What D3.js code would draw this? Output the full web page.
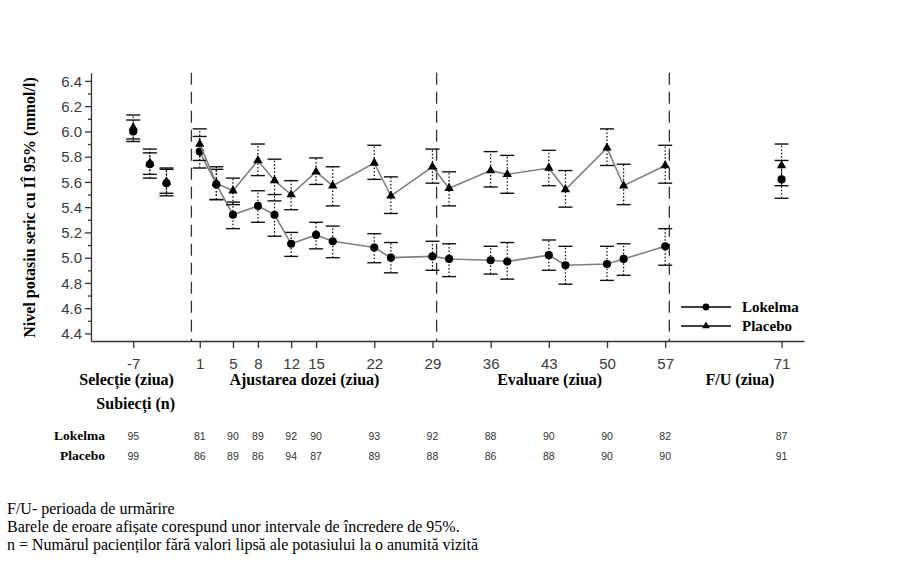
<!DOCTYPE html>
<html><head><meta charset="utf-8">
<script src="https://cdn.jsdelivr.net/npm/d3@7"></script>
<style>body{margin:0;background:#fff}svg{display:block}</style>
</head><body>
<script>
// ---- data ----
const visitDays = [-7,-5,-3,1,3,5,8,10,12,15,17,22,24,29,31,36,38,43,45,50,52,57,71];
const lokMean = [6.00,5.74,5.59,5.84,5.58,5.34,5.41,5.34,5.11,5.18,5.13,5.08,5.00,5.01,4.99,4.98,4.97,5.02,4.94,4.95,4.99,5.09,5.62];
const lokLo   = [5.92,5.63,5.49,5.71,5.46,5.23,5.28,5.17,5.01,5.07,5.00,4.96,4.88,4.90,4.85,4.87,4.83,4.90,4.79,4.82,4.86,4.94,5.47];
const lokHi   = [6.09,5.83,5.70,5.96,5.70,5.44,5.53,5.50,5.20,5.28,5.25,5.19,5.12,5.13,5.11,5.09,5.12,5.14,5.09,5.09,5.11,5.23,5.77];
const plaMean = [6.03,5.75,5.60,5.90,5.59,5.53,5.77,5.61,5.50,5.68,5.57,5.75,5.49,5.72,5.55,5.69,5.66,5.71,5.54,5.87,5.57,5.73,5.73];
const plaLo   = [5.94,5.66,5.51,5.77,5.46,5.42,5.65,5.45,5.38,5.58,5.41,5.62,5.35,5.59,5.41,5.56,5.51,5.57,5.40,5.73,5.42,5.59,5.57];
const plaHi   = [6.13,5.86,5.71,6.02,5.72,5.63,5.90,5.78,5.61,5.79,5.72,5.89,5.64,5.86,5.68,5.84,5.81,5.85,5.69,6.02,5.74,5.89,5.90];
const connectedFrom = 1, connectedTo = 57;   // line joins visits in this range

const xTickDays = [-7,1,5,8,12,15,22,29,36,43,50,57,71];
const yTicks = [4.4,4.6,4.8,5.0,5.2,5.4,5.6,5.8,6.0,6.2,6.4];
const yMinorTicks = [4.5,4.7,4.9,5.1,5.3,5.5,5.7,5.9,6.1,6.3];
const phaseDividers = [0, 29.5, 57.5];
const phaseLabels = [
  {text:"Selecție (ziua)", day:-7.8},
  {text:"Ajustarea dozei (ziua)", day:13.6},
  {text:"Evaluare (ziua)", day:43.1},
  {text:"F/U (ziua)", day:66}
];
const nLokelma = [95,81,90,89,92,90,93,92,88,90,90,82,87];
const nPlacebo = [99,86,89,86,94,87,89,88,86,88,90,90,91];
const footnotes = [
  "F/U- perioada de urmărire",
  "Barele de eroare afișate corespund unor intervale de încredere de 95%.",
  "n = Numărul pacienților fără valori lipsă ale potasiului la o anumită vizită"
];
const yTitle = "Nivel potasiu seric cu IÎ 95% (mmol/l)";

// ---- layout ----
const W = 921, H = 562;
const serif = "'Liberation Serif','Times New Roman',serif";
const sans = "'Liberation Sans',Arial,sans-serif";

const svg = d3.select("body").append("svg").attr("width", W).attr("height", H);

const x = d3.scaleLinear().domain([-12.08, 73.7]).range([91, 804]);
const y = d3.scaleLinear().domain([4.34, 6.465]).range([341, 72.7]);

// axes
const yAxis = svg.append("g").attr("transform", `translate(${x.range()[0]},0)`)
  .call(d3.axisLeft(y).tickValues(yTicks).tickFormat(d3.format(".1f")).tickSize(6).tickSizeOuter(0));
svg.append("g").attr("transform", `translate(${x.range()[0]},0)`)
  .call(d3.axisLeft(y).tickValues(yMinorTicks).tickFormat("").tickSize(3).tickSizeOuter(0))
  .select(".domain").remove();
yAxis.selectAll("text").attr("font-family", sans).attr("font-size", 15).attr("fill", "#3a3a3a").attr("x", -9).attr("dy", "0.34em");

const xAxis = svg.append("g").attr("transform", `translate(0,${y.range()[0]})`)
  .call(d3.axisBottom(x).tickValues(xTickDays).tickFormat(d => String(d)).tickSize(7).tickSizeOuter(0));
xAxis.selectAll("text").attr("font-family", sans).attr("font-size", 15).attr("fill", "#3a3a3a").attr("y", 0).attr("dy", 0)
  .attr("transform", "translate(0,28)");

svg.selectAll(".domain, .tick line").attr("stroke", "#333").attr("stroke-width", 1.3);

// phase dividers
svg.append("g").selectAll("line").data(phaseDividers).join("line")
  .attr("x1", d => x(d)).attr("x2", d => x(d))
  .attr("y1", y.range()[1]).attr("y2", y.range()[0])
  .attr("stroke", "#333").attr("stroke-width", 1.3).attr("stroke-dasharray", "12,7");

// series
function buildSeries(mean, lo, hi) {
  return visitDays.map((d, i) => ({day: d, m: mean[i], lo: lo[i], hi: hi[i]}));
}
const series = [
  {name: "Lokelma", data: buildSeries(lokMean, lokLo, lokHi), symbol: d3.symbolCircle, size: 52},
  {name: "Placebo", data: buildSeries(plaMean, plaLo, plaHi), symbol: d3.symbolTriangle, size: 38}
];

const line = d3.line().x(d => x(d.day)).y(d => y(d.m));
series.forEach(s => {
  const g = svg.append("g");
  const eb = g.append("g").selectAll("g").data(s.data).join("g");
  eb.append("line").attr("x1", d => x(d.day)).attr("x2", d => x(d.day))
    .attr("y1", d => y(d.lo)).attr("y2", d => y(d.hi))
    .attr("stroke", "#000").attr("stroke-width", 1.2).attr("stroke-dasharray", "1.5,2");
  eb.selectAll("line.cap").data(d => [{day: d.day, v: d.lo}, {day: d.day, v: d.hi}]).join("line")
    .attr("class", "cap")
    .attr("x1", d => x(d.day) - 7).attr("x2", d => x(d.day) + 7)
    .attr("y1", d => y(d.v)).attr("y2", d => y(d.v))
    .attr("stroke", "#111").attr("stroke-width", 1.4);
  g.append("path").datum(s.data.filter(d => d.day >= connectedFrom && d.day <= connectedTo))
    .attr("d", line).attr("fill", "none").attr("stroke", "#808080").attr("stroke-width", 1.6);
  s.g = g;
});
series.forEach(s => {
  s.g.append("g").selectAll("path").data(s.data).join("path")
    .attr("transform", d => `translate(${x(d.day)},${y(d.m)})`)
    .attr("d", d3.symbol().type(s.symbol).size(s.size)).attr("fill", "#000");
});

// legend
const legend = svg.append("g");
series.forEach((s, i) => {
  const ly = 307 + i * 19;
  legend.append("line").attr("x1", 681).attr("x2", 731).attr("y1", ly).attr("y2", ly)
    .attr("stroke", "#000").attr("stroke-width", 1.3);
  legend.append("path").attr("transform", `translate(706,${ly})`)
    .attr("d", d3.symbol().type(s.symbol).size(s.size * 0.7)).attr("fill", "#000");
  legend.append("text").attr("x", 742).attr("y", ly + 4.5).text(s.name)
    .attr("font-family", serif).attr("font-weight", "bold").attr("font-size", 15).attr("fill", "#000");
});

// y title
svg.append("text").attr("transform", "translate(35,207.5) rotate(-90)")
  .attr("text-anchor", "middle").attr("font-family", serif).attr("font-weight", "bold")
  .attr("font-size", 16).text(yTitle);

// phase labels
svg.append("g").selectAll("text").data(phaseLabels).join("text")
  .attr("x", d => x(d.day)).attr("y", 385).attr("text-anchor", "middle")
  .attr("font-family", serif).attr("font-weight", "bold").attr("font-size", 16).text(d => d.text);

svg.append("text").attr("x", 175).attr("y", 409).attr("text-anchor", "end")
  .attr("font-family", serif).attr("font-weight", "bold").attr("font-size", 16).text("Subiecți (n)");

// n table
const rows = [{name: "Lokelma", n: nLokelma, y: 440}, {name: "Placebo", n: nPlacebo, y: 460}];
rows.forEach(r => {
  svg.append("text").attr("x", 105).attr("y", r.y).attr("text-anchor", "end")
    .attr("font-family", serif).attr("font-weight", "bold").attr("font-size", 13.5).text(r.name);
  svg.append("g").selectAll("text").data(r.n).join("text")
    .attr("x", (d, i) => x(xTickDays[i])).attr("y", r.y).attr("text-anchor", "middle")
    .attr("font-family", sans).attr("font-size", 10.5).attr("fill", "#333").text(d => d);
});

// footnotes
svg.append("g").selectAll("text").data(footnotes).join("text")
  .attr("x", 7).attr("y", (d, i) => 514 + i * 18)
  .attr("font-family", serif).attr("font-size", 16).attr("fill", "#000").text(d => d);
</script>
</body></html>
